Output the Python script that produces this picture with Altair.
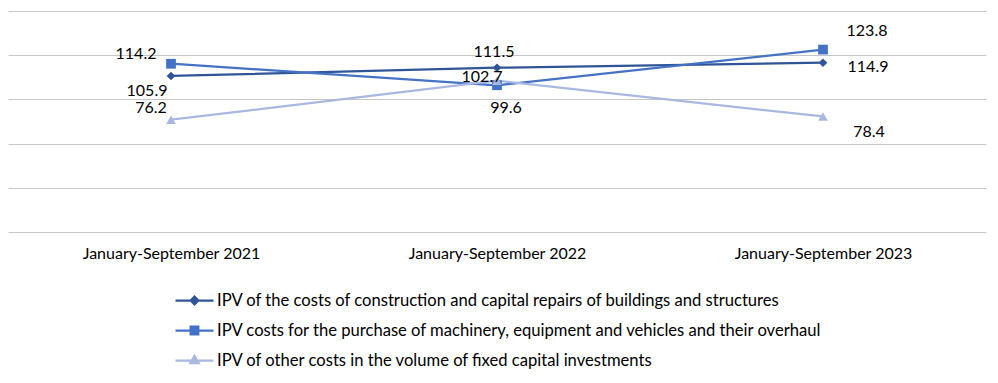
import altair as alt
import pandas as pd

periods = ["January-September 2021", "January-September 2022", "January-September 2023"]
series = [
    "IPV of the costs of construction and capital repairs of buildings and structures",
    "IPV costs for the purchase of machinery, equipment and vehicles and their overhaul",
    "IPV of other costs in the volume of fixed capital investments",
]
construction = [105.9, 111.5, 114.9]
machinery = [114.2, 99.6, 123.8]
other = [76.2, 102.7, 78.4]
y_ticks = [0, 30, 60, 90, 120, 150]

rows = []
for s, vals in zip(series, [construction, machinery, other]):
    for p, v in zip(periods, vals):
        rows.append({"series": s, "period": p, "value": v, "label": f"{v:.1f}"})
df = pd.DataFrame(rows)

colors = ["#2F5597", "#4472C4", "#A9B8E0"]
FONT = "Lato"
FS = 16

x = alt.X("period:N", sort=periods,
          scale=alt.Scale(domain=periods, padding=0.5),
          axis=alt.Axis(title=None, labelAngle=0, ticks=False, domain=False, grid=False,
                        labelFontSize=FS, labelColor="black", labelPadding=13, labelFont=FONT))
y = alt.Y("value:Q", scale=alt.Scale(domain=[0, 150], nice=False, zero=True),
          axis=alt.Axis(title=None, values=y_ticks, labels=False, ticks=False, domain=False,
                        grid=True, gridColor="#C6C6C6", gridWidth=1))

marker_shapes = ["diamond", "square", "triangle-up"]
marker_sizes = [75, 95, 95]
line_layers, point_layers = [], []
for s, col, shp, sz in zip(series, colors, marker_shapes, marker_sizes):
    base = alt.Chart(df).transform_filter(alt.datum.series == s)
    line_layers.append(base.mark_line(strokeWidth=2.25, color=col).encode(x=x, y=y))
    point_layers.append(
        base.mark_point(shape=shp, filled=True, size=sz, opacity=1, color=col).encode(x=x, y=y))

# legend: line with marker, carried by a hidden layer (its points fall outside the clipped plot)
legend_paths = [
    "M-1,0H1M0,-0.21L0.2,0L0,0.21L-0.2,0Z",
    "M-1,0H1M-0.2,-0.2H0.2V0.2H-0.2Z",
    "M-1,0H1M0,-0.24L0.22,0.14L-0.22,0.14Z",
]
color_scale = alt.Scale(domain=series, range=colors)
leg = dict(title=None, orient="none", legendX=166, legendY=269, direction="vertical",
           symbolSize=1444, symbolStrokeWidth=2.25, labelFontSize=16.6, labelFont=FONT,
           labelColor="black", labelOffset=2, labelLimit=900, rowPadding=-7,
           symbolOpacity=1)
legend_layer = (
    alt.Chart(df)
    .transform_calculate(hidden="-1000")
    .mark_point(filled=False, opacity=1, clip=True)
    .encode(
        x=x,
        y=alt.Y("hidden:Q", scale=alt.Scale(domain=[0, 150], nice=False, zero=True)),
        stroke=alt.Stroke("series:N", scale=color_scale, legend=alt.Legend(**leg)),
        fill=alt.Fill("series:N", scale=color_scale, legend=alt.Legend(**leg)),
        shape=alt.Shape("series:N", scale=alt.Scale(domain=series, range=legend_paths),
                        legend=alt.Legend(**leg)),
    )
)

# label offsets (dx, dy) per series / period
offsets = {
    (0, 0): (-24, 15), (0, 1): (-3, -16), (0, 2): (45, 4),
    (1, 0): (-35, -10), (1, 1): (9, 23), (1, 2): (44, -19),
    (2, 0): (-20, -12), (2, 1): (-15, -4), (2, 2): (46, 16),
}
label_layers = []
for (si, pi), (dx, dy) in offsets.items():
    label_layers.append(
        alt.Chart(df).transform_filter(
            (alt.datum.series == series[si]) & (alt.datum.period == periods[pi]))
        .mark_text(dx=dx, dy=dy, fontSize=FS, font=FONT, color="black",
                   align="center", baseline="middle")
        .encode(x=x, y=y, text="label:N")
    )

chart = alt.layer(*line_layers, *point_layers, legend_layer, *label_layers).properties(
    width=978, height=221,
    padding={"left": 0, "top": 3, "right": 4, "bottom": 143},
    autosize=alt.AutoSizeParams(type="none"),
    background="white",
).configure_view(stroke=None)

chart.save("out.html", embed_options={"renderer": "svg", "actions": False})
